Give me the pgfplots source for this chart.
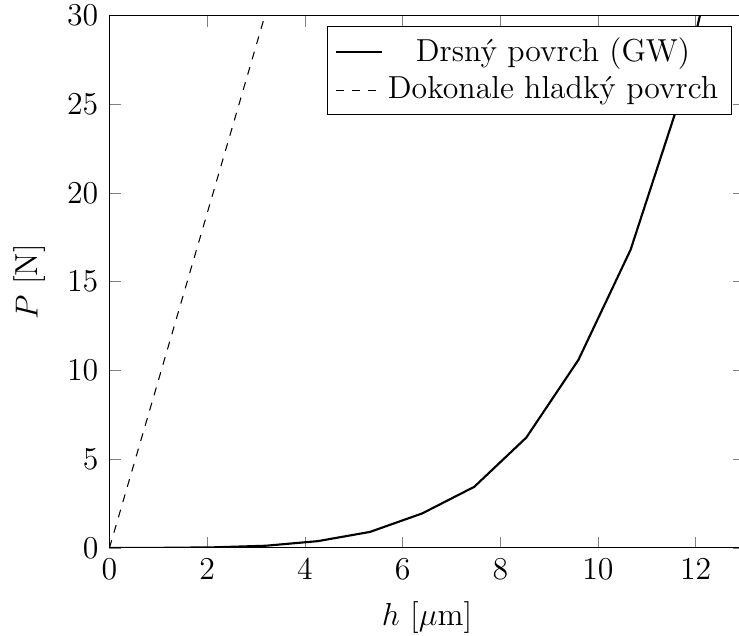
\documentclass[12pt,border=0pt]{standalone}
\usepackage{pgfplots}
\pgfplotsset{compat=1.18}
\begin{document}
\begin{tikzpicture}
\useasboundingbox (-41.3pt,-32.9pt) rectangle (237.5pt,206.7pt);
\begin{axis}[
  scale only axis,
  width=239.6pt, height=200.8pt,
  xmin=0, xmax=13, ymin=0, ymax=30,
  xtick={0,2,4,6,8,10,12},
  ytick={0,5,10,15,20,25,30},
  xlabel={$h$ [$\mu$m]},
  ylabel={$P$ [N]},
  legend style={at={(0.98,0.98)}, anchor=north east},
  legend cell align=center,
]
\addplot[thick, black] coordinates {
(0,0) (1.0667,0.002) (2.1333,0.03) (3.2,0.12) (4.2667,0.38) (5.3333,0.9)
(6.4,1.94) (7.4667,3.44) (8.5333,6.22) (9.6,10.6) (10.6667,16.8)
(11.7333,25.8) (12.8,38.5)
};
\addlegendentry{Drsný povrch (GW)}
\addplot[dashed, black] coordinates {
(0,0) (12.8,120.7)
};
\addlegendentry{Dokonale hladký povrch}
\end{axis}
\end{tikzpicture}
\end{document}
